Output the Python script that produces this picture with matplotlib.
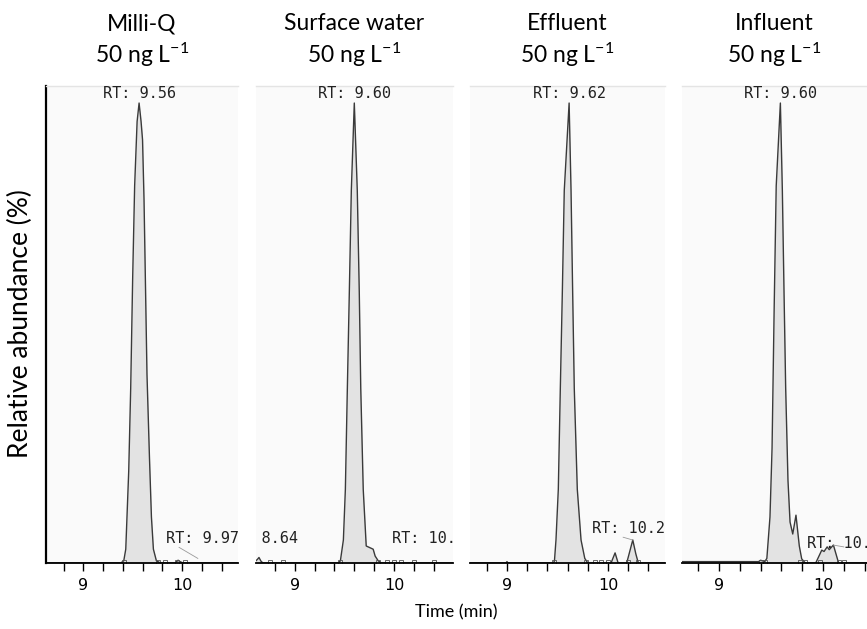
import numpy as np
import matplotlib
matplotlib.use("Agg")
import matplotlib.pyplot as plt

plt.rcParams['font.family'] = ['Lato', 'DejaVu Sans']
plt.rcParams['mathtext.default'] = 'regular'

# Sample names (panel titles)
samples = ["Milli-Q", "Surface water", "Effluent", "Influent"]
conc_label = "50 ng L$^{-1}$"

# Chromatogram traces: retention time (min) and relative abundance (%)
t_milliq = [8.62, 9.38, 9.41, 9.43, 9.46, 9.48, 9.50, 9.52, 9.545, 9.565, 9.585, 9.60,
            9.615, 9.63, 9.645, 9.67, 9.69, 9.71, 9.74, 9.78, 9.93, 9.96, 9.98, 10.01, 10.57]
i_milliq = [0, 0, 0.5, 3, 20, 38, 62, 82, 96, 100, 96, 92,
            79, 60, 41, 23, 10, 3, 0.5, 0, 0, 0.6, 0.3, 0, 0]

t_surface = [8.61, 8.625, 8.64, 8.66, 8.68, 9.44, 9.46, 9.49, 9.51, 9.53, 9.55, 9.57, 9.60,
             9.63, 9.65, 9.665, 9.69, 9.72, 9.76, 9.79, 9.81, 9.84, 9.87, 10.594]
i_surface = [0.5, 0.8, 1.2, 0.4, 0, 0, 0.5, 5, 16, 38, 59, 81, 100,
             81, 59, 38, 16, 3.7, 3.3, 3.0, 1.5, 0.5, 0, 0]

t_effluent = [8.634, 8.99, 9.00, 9.01, 9.46, 9.47, 9.485, 9.508, 9.528, 9.548, 9.567, 9.615,
              9.634, 9.65, 9.666, 9.696, 9.733, 9.77, 9.80, 10.03, 10.07, 10.10, 10.185,
              10.215, 10.245, 10.275, 10.30, 10.564]
i_effluent = [0, 0, 0.3, 0, 0, 0.5, 5, 16, 38, 59, 81, 100,
              81, 59, 38, 16, 5, 1, 0, 0, 2.2, 0, 0,
              2.5, 5, 2, 0, 0]

t_influent = [8.644, 9.38, 9.40, 9.44, 9.46, 9.49, 9.51, 9.53, 9.55, 9.59, 9.609, 9.625,
              9.641, 9.663, 9.683, 9.709, 9.74, 9.772, 9.795, 9.83, 9.93, 9.988, 10.01,
              10.04, 10.06, 10.10, 10.15, 10.18, 10.423]
i_influent = [0.3, 0.3, 0.6, 0.3, 1, 10, 25, 55, 82, 100, 81, 59,
              38, 18, 8.9, 6.3, 10.4, 3.7, 0.9, 0, 0, 2.8, 2.5,
              3.5, 2.9, 3.9, 0, 0, 0]

# Peak boundary markers (Xcalibur squares on the baseline)
marks_milliq = [9.41, 9.76, 9.83, 9.95, 10.03]
marks_surface = [8.75, 8.88, 9.46, 9.84, 9.93, 10.0, 10.07, 10.20, 10.40]
marks_effluent = [9.47, 9.78, 9.87, 9.93, 10.0, 10.2, 10.3]
marks_influent = [9.40, 9.44, 9.78, 9.83, 9.97, 10.15, 10.2]

# Apex labels and secondary labels (anchor x, y, text, alignment)
main_rt = [9.56, 9.60, 9.62, 9.60]
main_rt_x = [9.565, 9.60, 9.615, 9.59]
sub_labels = [
    [(9.835, 3.6, "RT: 9.97", 'left')],
    [(9.035, 3.6, "RT: 8.64", 'right'), (9.975, 3.6, "RT: 10.07", 'left')],
    [(9.84, 5.8, "RT: 10.24", 'left')],
    [(9.846, 2.6, "RT: 10.10", 'left')],
]
leaders = [
    [(9.97, 3.4, 10.16, 1.0)],
    [],
    [(10.15, 5.6, 10.245, 5.0)],
    [(10.20, 3.5, 10.10, 3.9)],
]

traces = [(t_milliq, i_milliq), (t_surface, i_surface),
          (t_effluent, i_effluent), (t_influent, i_influent)]
marks = [marks_milliq, marks_surface, marks_effluent, marks_influent]

W, H = 867, 629
fig = plt.figure(figsize=(W / 100, H / 100), dpi=100)

# panel pixel extents and x limits
boxes = [(46, 238), (256, 453), (470, 665), (682, 867)]
xlims = [(8.622, 10.567), (8.61, 10.594), (8.634, 10.564), (8.644, 10.423)]
top_px, base_px = 86, 563

for k in range(4):
    x0, x1 = boxes[k]
    ax = fig.add_axes([x0 / W, (H - base_px) / H, (x1 - x0) / W, (base_px - top_px) / H])
    ax.set_facecolor('#fafafa')
    t, y = traces[k]
    ax.fill_between(t, 0, y, color='#e3e3e3', lw=0)
    ax.plot(t, y, color='#3a3a3a', lw=1.0)
    ax.plot(marks[k], [0.25] * len(marks[k]), ls='none', marker='s', ms=3.5,
            mfc='none', mec='#555555', mew=0.6, clip_on=True)
    ax.set_xlim(*xlims[k])
    ax.set_ylim(0, 103.7)

    ax.text(main_rt_x[k], 100.4, f"RT: {main_rt[k]:.2f}", ha='center', va='bottom',
            family='DejaVu Sans Mono', fontsize=11, color='#222222')
    for (lx, ly, s, al) in sub_labels[k]:
        ax.text(lx, ly, s, ha=al, va='bottom', family='DejaVu Sans Mono',
                fontsize=11, color='#222222', clip_on=True)
    for (ax0, ay0, ax1_, ay1) in leaders[k]:
        ax.plot([ax0, ax1_], [ay0, ay1], color='#999999', lw=0.6)

    ax.set_xticks([9, 10])
    ax.set_xticklabels(['9', '10'], family='DejaVu Sans', fontsize=11.5)
    ax.set_xticks(np.arange(8.8, xlims[k][1], 0.2), minor=True)
    ax.tick_params(axis='x', which='both', direction='out', length=6, width=1.0,
                   color='black', pad=5)
    ax.set_yticks([])

    ax.spines['right'].set_visible(False)
    ax.spines['top'].set_color('#e4e4e4')
    ax.spines['top'].set_linewidth(1.0)
    ax.spines['bottom'].set_linewidth(1.3)
    if k == 0:
        ax.spines['left'].set_linewidth(1.6)
    else:
        ax.spines['left'].set_visible(False)

    cx = (x0 + x1) / 2 / W
    fig.text(cx, 1 - 24 / H, samples[k], ha='center', va='center', fontsize=16.5)
    fig.text(cx, 1 - 55 / H, conc_label, ha='center', va='center', fontsize=16.5)

fig.text(456 / W, 1 - 612 / H, "Time (min)", ha='center', va='center', fontsize=13)
fig.text(20 / W, 1 - 324 / H, "Relative abundance (%)", ha='center', va='center',
         rotation=90, fontsize=19)

fig.savefig("out.png", dpi=100)
